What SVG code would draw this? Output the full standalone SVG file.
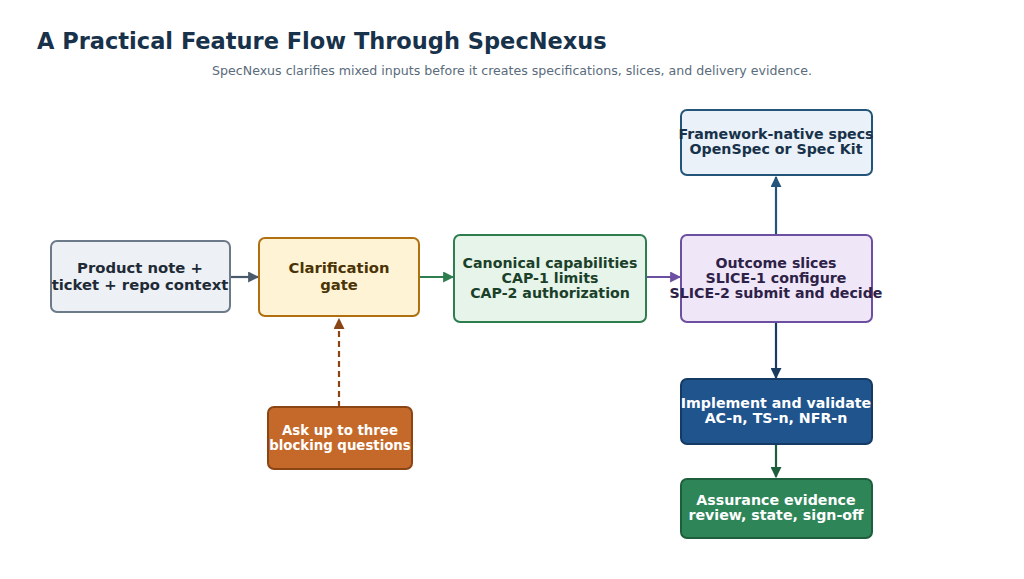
<svg xmlns="http://www.w3.org/2000/svg" width="1024" height="579" viewBox="0 0 1024 579">
<defs>
<style>
text{font-family:"DejaVu Sans","Liberation Sans",sans-serif;text-anchor:middle}
.n{font-weight:bold;font-size:14.2px}
.box{stroke-width:2}
.c{fill:none;stroke-width:2.2}
</style>
<marker id="aGray" viewBox="0 0 10 10" refX="9" refY="5" markerWidth="11" markerHeight="11" markerUnits="userSpaceOnUse" orient="auto"><path d="M0,0 L10,5 L0,10 z" fill="#4a5a6c"/></marker>
<marker id="aGreen" viewBox="0 0 10 10" refX="9" refY="5" markerWidth="11" markerHeight="11" markerUnits="userSpaceOnUse" orient="auto"><path d="M0,0 L10,5 L0,10 z" fill="#2e7d4f"/></marker>
<marker id="aPurple" viewBox="0 0 10 10" refX="9" refY="5" markerWidth="11" markerHeight="11" markerUnits="userSpaceOnUse" orient="auto"><path d="M0,0 L10,5 L0,10 z" fill="#6c4fa0"/></marker>
<marker id="aBlue" viewBox="0 0 10 10" refX="9" refY="5" markerWidth="11" markerHeight="11" markerUnits="userSpaceOnUse" orient="auto"><path d="M0,0 L10,5 L0,10 z" fill="#23557a"/></marker>
<marker id="aNavy" viewBox="0 0 10 10" refX="9" refY="5" markerWidth="11" markerHeight="11" markerUnits="userSpaceOnUse" orient="auto"><path d="M0,0 L10,5 L0,10 z" fill="#1b3a60"/></marker>
<marker id="aDkGreen" viewBox="0 0 10 10" refX="9" refY="5" markerWidth="11" markerHeight="11" markerUnits="userSpaceOnUse" orient="auto"><path d="M0,0 L10,5 L0,10 z" fill="#1f5e3c"/></marker>
<marker id="aBrown" viewBox="0 0 10 10" refX="9" refY="5" markerWidth="11" markerHeight="11" markerUnits="userSpaceOnUse" orient="auto"><path d="M0,0 L10,5 L0,10 z" fill="#8a4514"/></marker>
</defs>
<rect width="1024" height="579" fill="#ffffff"/>
<text x="37" y="49" style="text-anchor:start;font-weight:bold;font-size:22.5px" fill="#17324a">A Practical Feature Flow Through SpecNexus</text>
<text x="512" y="75" style="font-size:12.6px" fill="#5a6b7c">SpecNexus clarifies mixed inputs before it creates specifications, slices, and delivery evidence.</text>

<g id="connectors">
<line class="c" x1="230" y1="277" x2="258" y2="277" stroke="#4a5a6c" marker-end="url(#aGray)"/>
<line class="c" x1="419" y1="277" x2="453" y2="277" stroke="#2e7d4f" marker-end="url(#aGreen)"/>
<line class="c" x1="646" y1="277" x2="680" y2="277" stroke="#6c4fa0" marker-end="url(#aPurple)"/>
<line class="c" x1="776" y1="235" x2="776" y2="177" stroke="#23557a" marker-end="url(#aBlue)"/>
<line class="c" x1="776" y1="322" x2="776" y2="378" stroke="#1b3a60" marker-end="url(#aNavy)"/>
<line class="c" x1="776" y1="444" x2="776" y2="477" stroke="#1f5e3c" marker-end="url(#aDkGreen)"/>
<line class="c" x1="339" y1="407" x2="339" y2="319" stroke="#8a4514" stroke-dasharray="6,4" marker-end="url(#aBrown)"/>
</g>

<g id="input">
<rect class="box" x="51" y="241" width="179" height="71" rx="6" fill="#edf0f5" stroke="#6c7a8a"/>
<text class="n" x="140" y="273" style="font-size:14.8px" fill="#1e2a36">Product note +</text>
<text class="n" x="140" y="290" style="font-size:14.8px" fill="#1e2a36">ticket + repo context</text>
</g>

<g id="clarification">
<rect class="box" x="259" y="238" width="160" height="78" rx="6" fill="#fff3d6" stroke="#b0700f"/>
<text class="n" x="339" y="273" style="font-size:14.8px" fill="#4a3306">Clarification</text>
<text class="n" x="339" y="290" style="font-size:14.8px" fill="#4a3306">gate</text>
</g>

<g id="capabilities">
<rect class="box" x="454" y="235" width="192" height="87" rx="6" fill="#e6f4ea" stroke="#2e7d4f"/>
<text class="n" x="550" y="268" fill="#1b4029">Canonical capabilities</text>
<text class="n" x="550" y="283" fill="#1b4029">CAP-1 limits</text>
<text class="n" x="550" y="298" fill="#1b4029">CAP-2 authorization</text>
</g>

<g id="slices">
<rect class="box" x="681" y="235" width="191" height="87" rx="6" fill="#efe7f7" stroke="#6c4fa0"/>
<text class="n" x="776" y="268" fill="#2e2148">Outcome slices</text>
<text class="n" x="776" y="283" fill="#2e2148">SLICE-1 configure</text>
<text class="n" x="776" y="298" fill="#2e2148">SLICE-2 submit and decide</text>
</g>

<g id="specs">
<rect class="box" x="681" y="110" width="191" height="65" rx="6" fill="#eaf1f8" stroke="#23557a"/>
<text class="n" x="776" y="139" fill="#17324a">Framework-native specs</text>
<text class="n" x="776" y="154" fill="#17324a">OpenSpec or Spec Kit</text>
</g>

<g id="questions">
<rect class="box" x="268" y="407" width="144" height="62" rx="6" fill="#c4692a" stroke="#8a4514"/>
<text class="n" x="340" y="435" style="font-size:13.3px" fill="#ffffff">Ask up to three</text>
<text class="n" x="340" y="450" style="font-size:13.3px" fill="#ffffff">blocking questions</text>
</g>

<g id="implement">
<rect class="box" x="681" y="379" width="191" height="65" rx="6" fill="#1f548d" stroke="#153a63"/>
<text class="n" x="776" y="408" fill="#ffffff">Implement and validate</text>
<text class="n" x="776" y="423" fill="#ffffff">AC-n, TS-n, NFR-n</text>
</g>

<g id="assurance">
<rect class="box" x="681" y="479" width="191" height="59" rx="6" fill="#2e8558" stroke="#1f5e3c"/>
<text class="n" x="776" y="505" fill="#ffffff">Assurance evidence</text>
<text class="n" x="776" y="520" fill="#ffffff">review, state, sign-off</text>
</g>
</svg>
